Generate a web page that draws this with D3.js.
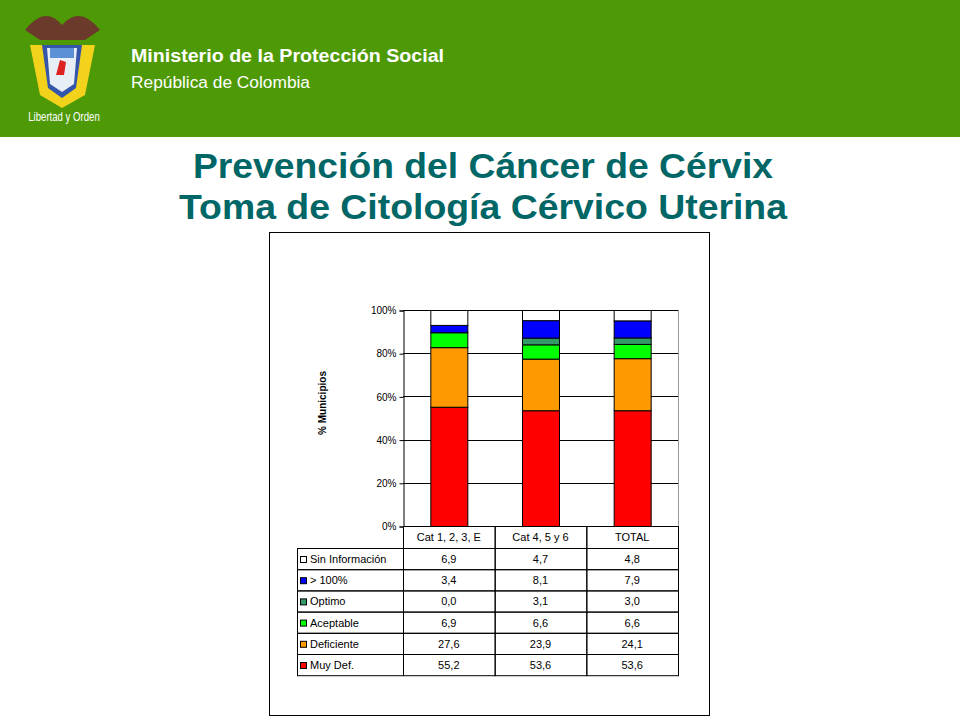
<!DOCTYPE html>
<html><head><meta charset="utf-8">
<script src="https://cdn.jsdelivr.net/npm/d3@7"></script>
<style>body{margin:0;background:#fff}svg{display:block;font-family:Arial,"Liberation Sans",sans-serif}</style>
</head><body>
<script>
const categories = ["Cat 1, 2, 3, E", "Cat 4, 5 y 6", "TOTAL"];
const seriesNames = ["Muy Def.", "Deficiente", "Aceptable", "Optimo", "> 100%", "Sin Información"];
const seriesColors = ["#ff0000", "#ff9900", "#00ff00", "#339966", "#0000ff", "#ffffff"];
const muyDef = [55.2, 53.6, 53.6];
const deficiente = [27.6, 23.9, 24.1];
const aceptable = [6.9, 6.6, 6.6];
const optimo = [0.0, 3.1, 3.0];
const mas100 = [3.4, 8.1, 7.9];
const sinInfo = [6.9, 4.7, 4.8];
const yTicks = [0, 20, 40, 60, 80, 100];

const values = [muyDef, deficiente, aceptable, optimo, mas100, sinInfo];
const rows = categories.map((c, i) => {
  const r = {cat: c};
  seriesNames.forEach((s, j) => r[s] = values[j][i]);
  return r;
});

const svg = d3.select("body").append("svg").attr("width", 960).attr("height", 720);

// header
svg.append("rect").attr("width", 960).attr("height", 137).attr("fill", "#4e9a06");
const logo = svg.append("g");
logo.append("path").attr("d", "M25,30 Q45,5 62,25 Q80,5 100,30 L85,40 L40,40 Z").attr("fill", "#6b3a2a");
logo.append("path").attr("d", "M30,45 L40,95 L62,108 L85,95 L95,45 Z").attr("fill", "#f2d21b");
logo.append("path").attr("d", "M42,45 L48,88 L62,98 L76,88 L82,45 Z").attr("fill", "#3355aa");
logo.append("path").attr("d", "M47,48 L50,84 L62,92 L74,84 L77,48 Z").attr("fill", "#e8eef5");
logo.append("rect").attr("x", 50).attr("y", 48).attr("width", 24).attr("height", 10).attr("fill", "#5d8fd6");
logo.append("path").attr("d", "M56,75 L60,60 L66,62 L64,75 Z").attr("fill", "#d22");
logo.append("text").attr("x", 64).attr("y", 121).attr("text-anchor", "middle").attr("fill", "#fff")
  .attr("font-size", 12).attr("transform", "translate(64,0) scale(0.8,1) translate(-64,0)").text("Libertad y Orden");
svg.append("text").attr("x", 131).attr("y", 62).attr("fill", "#fff").attr("font-weight", "bold")
  .attr("font-size", 19).attr("textLength", 313).attr("lengthAdjust", "spacingAndGlyphs").text("Ministerio de la Protección Social");
svg.append("text").attr("x", 131).attr("y", 88).attr("fill", "#fff")
  .attr("font-size", 16).attr("textLength", 179).attr("lengthAdjust", "spacingAndGlyphs").text("República de Colombia");

// title
svg.append("text").attr("x", 483).attr("y", 178).attr("text-anchor", "middle").attr("fill", "#006666")
  .attr("font-weight", "bold").attr("font-size", 35).attr("textLength", 580).attr("lengthAdjust", "spacingAndGlyphs")
  .text("Prevención del Cáncer de Cérvix");
svg.append("text").attr("x", 483).attr("y", 219).attr("text-anchor", "middle").attr("fill", "#006666")
  .attr("font-weight", "bold").attr("font-size", 35).attr("textLength", 608).attr("lengthAdjust", "spacingAndGlyphs")
  .text("Toma de Citología Cérvico Uterina");

// chart frame
svg.append("rect").attr("x", 269.5).attr("y", 232.5).attr("width", 440).attr("height", 483)
  .attr("fill", "#fff").attr("stroke", "#000");

const x0 = 403, x1 = 678, yTop = 310, yBot = 526;
const x = d3.scaleBand().domain(categories).range([x0, x1]);
const y = d3.scaleLinear().domain([0, 100]).range([yBot, yTop]);

const g = svg.append("g");
g.selectAll(".grid").data(yTicks).enter().append("line")
  .attr("x1", x0).attr("x2", x1).attr("y1", d => Math.round(y(d)) + 0.5).attr("y2", d => Math.round(y(d)) + 0.5)
  .attr("stroke", "#000");
g.append("line").attr("x1", x1 + 0.5).attr("x2", x1 + 0.5).attr("y1", yTop).attr("y2", yBot).attr("stroke", "#999");

const yAxis = g.append("g").attr("transform", `translate(${x0 + 0.5},0.5)`)
  .call(d3.axisLeft(y).tickValues(yTicks).tickFormat(d => d + "%").tickSize(4));
yAxis.selectAll("text").attr("font-size", 10).attr("font-family", "Arial,'Liberation Sans'");
yAxis.select(".domain").attr("stroke", "#000");

svg.append("text").attr("transform", "translate(326,403) rotate(-90)").attr("text-anchor", "middle")
  .attr("font-size", 10).attr("font-weight", "bold").text("% Municipios");

const stack = d3.stack().keys(seriesNames)(rows);
const bw = 37;
g.selectAll(".layer").data(stack).enter().append("g")
  .attr("fill", (d, i) => seriesColors[i])
  .selectAll("rect").data(d => d).enter().append("rect")
  .attr("x", d => x(d.data.cat) + x.bandwidth() / 2 - bw / 2 + 0.5)
  .attr("width", bw)
  .attr("y", d => y(d[1]) + 0.5)
  .attr("height", d => Math.max(0, y(d[0]) - y(d[1])))
  .attr("stroke", "#000").attr("stroke-width", 1);

// data table
const tLeft = 297, rowH = 21.2, headH = 22;
const t = svg.append("g").attr("font-size", 11).attr("font-family", "Arial,'Liberation Sans'");
const tableRows = seriesNames.slice().reverse();
categories.forEach(c => {
  t.append("rect").attr("x", x(c) + 0.5).attr("y", yBot + 0.5).attr("width", x.bandwidth()).attr("height", headH)
    .attr("fill", "none").attr("stroke", "#000");
  t.append("text").attr("x", x(c) + x.bandwidth() / 2).attr("y", yBot + 15).attr("text-anchor", "middle").text(c);
});
tableRows.forEach((s, r) => {
  const yy = yBot + headH + r * rowH;
  const si = seriesNames.indexOf(s);
  t.append("rect").attr("x", tLeft + 0.5).attr("y", yy + 0.5).attr("width", x0 - tLeft).attr("height", rowH)
    .attr("fill", "none").attr("stroke", "#000");
  t.append("rect").attr("x", tLeft + 3.5).attr("y", yy + 8.5).attr("width", 6).attr("height", 6)
    .attr("fill", seriesColors[si]).attr("stroke", "#000");
  t.append("text").attr("x", tLeft + 13).attr("y", yy + 15).text(s);
  categories.forEach((c, ci) => {
    t.append("rect").attr("x", x(c) + 0.5).attr("y", yy + 0.5).attr("width", x.bandwidth()).attr("height", rowH)
      .attr("fill", "none").attr("stroke", "#000");
    t.append("text").attr("x", x(c) + x.bandwidth() / 2).attr("y", yy + 15).attr("text-anchor", "middle")
      .text(values[si][ci].toFixed(1).replace(".", ","));
  });
});
</script>
</body></html>
